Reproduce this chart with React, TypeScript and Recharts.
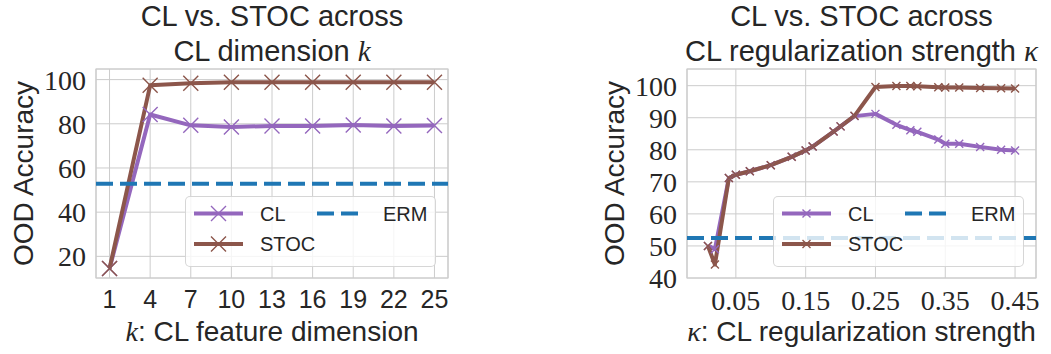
import React from "react";
import {
    LineChart, Line, XAxis, YAxis, CartesianGrid, ReferenceLine, ReferenceArea, Legend, Label,
} from "recharts";

const TEXT = "#262626";
const SANS = '"Liberation Sans", Arial, sans-serif';
const SERIF = '"Liberation Serif", "Times New Roman", serif';
const GRID = "#cccccc";

const CL_COLOR = "#9467bd";
const STOC_COLOR = "#8c564b";
const ERM_COLOR = "#1f77b4";

// left panel: CL feature dimension k
const dims = [1, 4, 7, 10, 13, 16, 19, 22, 25];
const clByDim = [14.5, 84.2, 79.3, 78.6, 79.0, 79.0, 79.4, 79.0, 79.2];
const stocByDim = [14.5, 97.4, 98.4, 98.8, 98.8, 98.8, 98.8, 98.8, 98.8];
const ermByDim = 52.9;
const dimTicks = [1, 4, 7, 10, 13, 16, 19, 22, 25];
const dimAccTicks = [20, 40, 60, 80, 100];

// right panel: CL regularization strength kappa
const kappas = [0.01, 0.02, 0.04, 0.05, 0.07, 0.1, 0.13, 0.15, 0.16, 0.19, 0.2, 0.22, 0.25, 0.28, 0.3, 0.31, 0.34, 0.35, 0.37, 0.4, 0.43, 0.45];
const clByKappa = [50.0, 49.0, 71.2, 72.2, 73.3, 75.2, 77.8, 79.8, 81.0, 85.7, 87.3, 90.5, 91.2, 87.8, 86.1, 85.6, 83.2, 81.9, 81.9, 80.9, 80.0, 79.8];
const stocByKappa = [50.0, 44.2, 71.2, 72.2, 73.3, 75.2, 77.8, 79.8, 81.0, 85.7, 87.3, 90.6, 99.6, 99.9, 99.9, 99.8, 99.5, 99.4, 99.4, 99.3, 99.2, 99.1];
const ermByKappa = 52.5;
const kappaTicks = [0.05, 0.15, 0.25, 0.35, 0.45];
const kappaAccTicks = [40, 50, 60, 70, 80, 90, 100];

const xMark = (color: string, r: number) => (props: any) => {
    const { cx, cy, index } = props;
    if (cx == null || cy == null) return <g key={`m-${index}`} />;
    return (
        <path key={`m-${index}`}
            d={`M${cx - r},${cy - r}L${cx + r},${cy + r}M${cx - r},${cy + r}L${cx + r},${cy - r}`}
            stroke={color} strokeWidth={1.4} fill="none" />
    );
};

// tick renderers (so the font family really sticks)
const xTick = (serif: boolean, fmt?: (v: number) => string) => (props: any) => {
    const { x, y, payload } = props;
    const v = fmt ? fmt(payload.value) : String(payload.value);
    return (
        <text x={x} y={y} dy="0.71em" textAnchor="middle" fill={TEXT}
            fontSize={serif ? 28 : 25} fontFamily={serif ? SERIF : SANS}>{v}</text>
    );
};

const yTick = (props: any) => {
    const { x, y, payload } = props;
    return (
        <text x={x} y={y} dy="0.355em" textAnchor="end" fill={TEXT} fontSize={28} fontFamily={SERIF}>
            {payload.value}
        </text>
    );
};

const LegendBox = ({ marker }: { marker: number }) => {
    const rows = [16.5, 47];
    const sample = (y: number, color: string) => (
        <svg style={{ position: 'absolute', left: 0, top: 0, overflow: 'visible' }} width={1} height={1}>
            <line x1={8} x2={57} y1={y} y2={y} stroke={color} strokeWidth={4} />
            <path d={`M${32.5 - marker},${y - marker}L${32.5 + marker},${y + marker}M${32.5 - marker},${y + marker}L${32.5 + marker},${y - marker}`}
                stroke={color} strokeWidth={1.4} />
        </svg>
    );
    const text = (x: number, y: number, s: string) => (
        <div style={{ position: 'absolute', left: x, top: y - 12, height: 24, lineHeight: '24px', fontSize: 20, fontFamily: SANS, color: TEXT }}>{s}</div>
    );
    return (
        <div style={{
            position: 'relative', width: 251, height: 71, boxSizing: 'border-box',
            background: 'rgba(255,255,255,0.8)', border: '1px solid rgba(204,204,204,0.8)', borderRadius: 5,
        }}>
            {sample(rows[0], CL_COLOR)}
            {text(74, rows[0], "CL")}
            {sample(rows[1], STOC_COLOR)}
            {text(74, rows[1], "STOC")}
            <svg style={{ position: 'absolute', left: 0, top: 0, overflow: 'visible' }} width={1} height={1}>
                <line x1={131} x2={172} y1={rows[0]} y2={rows[0]} stroke={ERM_COLOR} strokeWidth={4} strokeDasharray="17 7" />
            </svg>
            {text(197, rows[0], "ERM")}
        </div>
    );
};

interface PanelProps {
    left: number;
    width: number;
    plotLeft: number;
    plotRight: number;
    xs: number[];
    cl: number[];
    stoc: number[];
    erm: number;
    xDomain: [number, number];
    yDomain: [number, number];
    xTicks: number[];
    yTicks: number[];
    xTickSerif: boolean;
    xFmt?: (v: number) => string;
    title: React.ReactNode;
    xLabel: React.ReactNode;
    marker: number;
    legendLeft: number;
}

function Panel(p: PanelProps) {
    const data = p.xs.map((x, i) => ({ x, cl: p.cl[i], stoc: p.stoc[i] }));
    const height = 354;
    const plotWidth = p.width - p.plotLeft - p.plotRight;
    return (
        <div style={{ position: 'absolute', left: p.left, top: 0, width: p.width, height }}>
            <div style={{
                position: 'absolute', left: p.plotLeft - 40, width: plotWidth + 80, top: -1, textAlign: 'center',
                fontFamily: SANS, fontSize: 29, lineHeight: '35px', color: TEXT, whiteSpace: 'nowrap',
            }}>{p.title}</div>
            <LineChart width={p.width} height={height} data={data}
                margin={{ top: 69, right: p.plotRight, bottom: 36, left: p.plotLeft - 60 }}>
                <CartesianGrid stroke={GRID} strokeWidth={1} />
                <ReferenceArea x1={p.xDomain[0]} x2={p.xDomain[1]} y1={p.yDomain[0]} y2={p.yDomain[1]}
                    fill="none" stroke={GRID} strokeWidth={1.2} ifOverflow="visible" />
                <XAxis dataKey="x" type="number" domain={p.xDomain} ticks={p.xTicks} allowDataOverflow interval={0}
                    height={40} tickSize={0} tickMargin={12} axisLine={false} tickLine={false}
                    tick={xTick(p.xTickSerif, p.xFmt)}>
                    <Label content={(lp: any) => {
                        const vb = lp.viewBox;
                        return (
                            <text x={vb.x + vb.width / 2} y={vb.y + 63} textAnchor="middle"
                                fill={TEXT} fontSize={28} fontFamily={SANS}>{p.xLabel}</text>
                        );
                    }} />
                </XAxis>
                <YAxis type="number" domain={p.yDomain} ticks={p.yTicks} allowDataOverflow interval={0}
                    width={60} tickSize={0} tickMargin={10} axisLine={false} tickLine={false}
                    tick={yTick}>
                    <Label content={(lp: any) => {
                        const vb = lp.viewBox;
                        const bx = vb.x + vb.width - 63;
                        const cy = vb.y + vb.height / 2;
                        return (
                            <text x={bx} y={cy} transform={`rotate(-90, ${bx}, ${cy})`} textAnchor="middle"
                                fill={TEXT} fontSize={28} fontFamily={SANS}>OOD Accuracy</text>
                        );
                    }} />
                </YAxis>
                <Line dataKey="cl" name="CL" stroke={CL_COLOR} strokeWidth={4} strokeLinejoin="round"
                    dot={xMark(CL_COLOR, p.marker)} activeDot={false} isAnimationActive={false} />
                <Line dataKey="stoc" name="STOC" stroke={STOC_COLOR} strokeWidth={4} strokeLinejoin="round"
                    dot={xMark(STOC_COLOR, p.marker)} activeDot={false} isAnimationActive={false} />
                <ReferenceLine y={p.erm} stroke={ERM_COLOR} strokeWidth={4} strokeDasharray="17 7" />
                <Legend layout="horizontal" verticalAlign="middle" align="center"
                    wrapperStyle={{ left: p.legendLeft, top: 196, width: 251, height: 71 }}
                    content={() => <LegendBox marker={p.marker} />} />
            </LineChart>
        </div>
    );
}

const mathK = <tspan fontFamily={SERIF} fontStyle="italic">k</tspan>;
const mathKappa = <tspan fontFamily={SERIF} fontStyle="italic">κ</tspan>;

export default function App() {
    return (
        <div style={{ position: 'absolute', left: 0, top: 0, width: 1051, height: 354, background: '#fff' }}>
            <Panel left={0} width={460} plotLeft={96} plotRight={12}
                xs={dims} cl={clByDim} stoc={stocByDim} erm={ermByDim}
                xDomain={[0, 26]} yDomain={[10.2, 104.8]} xTicks={dimTicks} yTicks={dimAccTicks}
                xTickSerif={false}
                title={<>CL vs. STOC across<br />CL dimension <span style={{ fontFamily: SERIF, fontStyle: 'italic' }}>k</span></>}
                xLabel={<>{mathK}: CL feature dimension</>}
                marker={7.5} legendLeft={185} />
            <Panel left={590} width={461} plotLeft={97} plotRight={15}
                xs={kappas} cl={clByKappa} stoc={stocByKappa} erm={ermByKappa}
                xDomain={[-0.02, 0.48]} yDomain={[40, 105.2]} xTicks={kappaTicks} yTicks={kappaAccTicks}
                xTickSerif={true} xFmt={(v: number) => v.toFixed(2)}
                title={<>CL vs. STOC across<br />CL regularization strength <span style={{ fontFamily: SERIF, fontStyle: 'italic' }}>κ</span></>}
                xLabel={<>{mathKappa}: CL regularization strength</>}
                marker={4} legendLeft={183} />
        </div>
    );
}
